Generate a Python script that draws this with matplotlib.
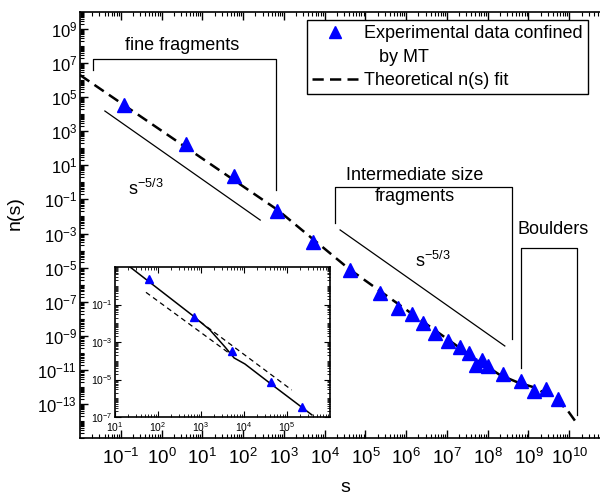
import matplotlib.pyplot as plt
from matplotlib import ticker
from matplotlib.lines import Line2D
import numpy as np

plt.rcParams['font.family'] = ['Liberation Sans', 'DejaVu Sans']
plt.rcParams['mathtext.fontset'] = 'custom'
plt.rcParams['mathtext.rm'] = 'Liberation Sans'
plt.rcParams['mathtext.it'] = 'Liberation Sans:italic'
plt.rcParams['mathtext.default'] = 'regular'

# experimental points (log10 values)
exp_log_s = [-0.92, 0.60, 1.78, 2.83, 3.72, 4.62, 5.36, 5.80, 6.14, 6.41, 6.71,
             7.03, 7.32, 7.54, 7.71, 7.86, 8.01, 8.38, 8.82, 9.14, 9.43, 9.72]
exp_log_n = [4.54, 2.25, 0.38, -1.68, -3.50, -5.14, -6.49, -7.37, -7.72, -8.25, -8.84,
             -9.31, -9.66, -10.01, -10.72, -10.42, -10.77, -11.24, -11.66, -12.24, -12.12, -12.71]

# theoretical fit
fit_log_s = [-2.0, 2.85, 4.6, 7.6, 8.3, 8.75, 9.1, 9.6, 9.95, 10.22]
fit_log_n = [6.30, -1.62, -5.08, -10.2, -11.3, -11.75, -12.0, -12.6, -13.35, -14.25]

# s^-5/3 guide lines
guide_fine_log_s = [-1.39, 2.42]
guide_fine_log_n = [4.19, -2.21]
guide_mid_log_s = [4.38, 8.42]
guide_mid_log_n = [-2.79, -9.60]

# brackets
fine_br_log_s = [-1.68, -1.68, 2.81, 2.81]
fine_br_log_n = [6.6, 7.24, 7.24, -0.45]
mid_br_log_s = [4.255, 4.255, 8.596, 8.596]
mid_br_log_n = [-2.38, -0.27, -0.27, -9.19]
boulder_br_log_s = [8.817, 8.817, 10.19, 10.19]
boulder_br_log_n = [-10.89, -3.85, -3.85, -13.65]

# inset
inset_min_log_s, inset_max_log_s = 1, 6
inset_fit_log_s = [1.35, 2.79, 3.21, 3.56, 3.77, 4.02, 4.60, 5.58]
inset_fit_log_n = [1.0, -1.56, -2.36, -3.27, -3.85, -4.17, -5.19, -6.89]
inset_low_log_s = [1.72, 3.71]
inset_low_log_n = [-0.35, -3.69]
inset_up_log_s = [2.98, 5.11]
inset_up_log_n = [-1.92, -5.56]


def p10(v):
    return np.power(10.0, v)


W, H = 600, 497
fig = plt.figure(figsize=(W / 100, H / 100), dpi=100)
ax = fig.add_axes([80 / W, 59 / H, 530 / W, 426 / H])
ax.set_xscale('log')
ax.set_yscale('log')
ax.set_xlim(1e-2, 1e11)
ax.set_ylim(1e-15, 1e10)

ax.plot(p10(fit_log_s), p10(fit_log_n), color='k', lw=1.8, linestyle=(0, (4.5, 2.5)))
ax.plot(p10(exp_log_s), p10(exp_log_n), linestyle='none', marker='^', ms=9.5,
        color='blue', mec='blue')

for xs, ys in [(guide_fine_log_s, guide_fine_log_n), (guide_mid_log_s, guide_mid_log_n),
               (fine_br_log_s, fine_br_log_n), (mid_br_log_s, mid_br_log_n),
               (boulder_br_log_s, boulder_br_log_n)]:
    ax.plot(p10(xs), p10(ys), color='k', lw=0.9)

ax.text(p10(0.50), p10(8.06), 'fine fragments', fontsize=13, ha='center', va='center')
ax.text(p10(-0.82), p10(-0.36), 's$^{-5/3}$', fontsize=13, ha='left', va='center')
ax.text(p10(6.22), p10(-0.21), 'Intermediate size\nfragments', fontsize=13,
        ha='center', va='center', multialignment='center', linespacing=1.35)
ax.text(p10(6.22), p10(-4.61), 's$^{-5/3}$', fontsize=13, ha='left', va='center')
ax.text(p10(9.60), p10(-2.79), 'Boulders', fontsize=13, ha='center', va='center')

ax.set_xticks([10.0 ** k for k in range(-1, 11)])
ax.set_yticks([10.0 ** k for k in range(-13, 10, 2)])
ax.xaxis.set_minor_locator(ticker.LogLocator(base=10, subs=np.arange(2, 10), numticks=200))
ax.yaxis.set_minor_locator(ticker.LogLocator(base=10, subs=np.arange(1, 10), numticks=200))
ax.xaxis.set_minor_formatter(ticker.NullFormatter())
ax.yaxis.set_minor_formatter(ticker.NullFormatter())
ax.tick_params(which='both', direction='in', top=True, right=False)
ax.tick_params(which='major', length=6, width=1)
ax.tick_params(which='minor', length=3, width=0.8)
ax.tick_params(axis='x', labelsize=13.5, pad=7)
ax.tick_params(axis='y', labelsize=12, pad=2)
for sp in ax.spines.values():
    sp.set_linewidth(1.2)

handles = [Line2D([], [], linestyle='none', marker='^', ms=8, color='blue'),
           Line2D([], [], linestyle='none'),
           Line2D([], [], color='k', lw=1.8, linestyle=(0, (4.5, 2.5)))]
labels = ['Experimental data confined', '   by MT', 'Theoretical n(s) fit']
leg = ax.legend(handles, labels, loc='upper left', bbox_to_anchor=(307 / W, 1 - 20 / H),
                bbox_transform=fig.transFigure, fancybox=False, edgecolor='k',
                fontsize=13, handlelength=2.5, handletextpad=0.35, borderpad=0.3,
                borderaxespad=0, labelspacing=0.35, framealpha=1)
leg.get_frame().set_linewidth(1.0)

fig.text(15 / W, 1 - 213 / H, 'n(s)', rotation=90, fontsize=14, ha='center', va='center')
fig.text(345 / W, 1 / H, 's', fontsize=14, ha='center', va='bottom')

# inset
axi = fig.add_axes([115 / W, 80 / H, 215 / W, 150 / H])
axi.set_xscale('log')
axi.set_yscale('log')
axi.set_xlim(p10(inset_min_log_s), p10(inset_max_log_s))
axi.set_ylim(1e-7, 1e1)
axi.plot(p10(inset_fit_log_s), p10(inset_fit_log_n), color='k', lw=1.1)
axi.plot(p10(inset_low_log_s), p10(inset_low_log_n), color='k', lw=0.9, linestyle=(0, (4, 3)))
axi.plot(p10(inset_up_log_s), p10(inset_up_log_n), color='k', lw=0.9, linestyle=(0, (4, 3)))
sel = [i for i, v in enumerate(exp_log_s) if inset_min_log_s < v < inset_max_log_s]
axi.plot(p10([exp_log_s[i] for i in sel]), p10([exp_log_n[i] for i in sel]),
         linestyle='none', marker='^', ms=5.5, color='blue')
axi.set_xticks([10.0 ** k for k in range(1, 6)])
axi.set_yticks([10.0 ** k for k in range(-7, 0, 2)])
axi.xaxis.set_minor_locator(ticker.LogLocator(base=10, subs=np.arange(2, 10), numticks=200))
axi.yaxis.set_minor_locator(ticker.LogLocator(base=10, subs=np.arange(1, 10), numticks=200))
axi.xaxis.set_minor_formatter(ticker.NullFormatter())
axi.yaxis.set_minor_formatter(ticker.NullFormatter())
axi.tick_params(which='both', direction='in', top=True, right=True, labelsize=7.5, pad=2)
axi.tick_params(which='major', length=4, width=0.8)
axi.tick_params(which='minor', length=2, width=0.6)
for sp in axi.spines.values():
    sp.set_linewidth(1.2)

fig.savefig('out.png', dpi=100)
